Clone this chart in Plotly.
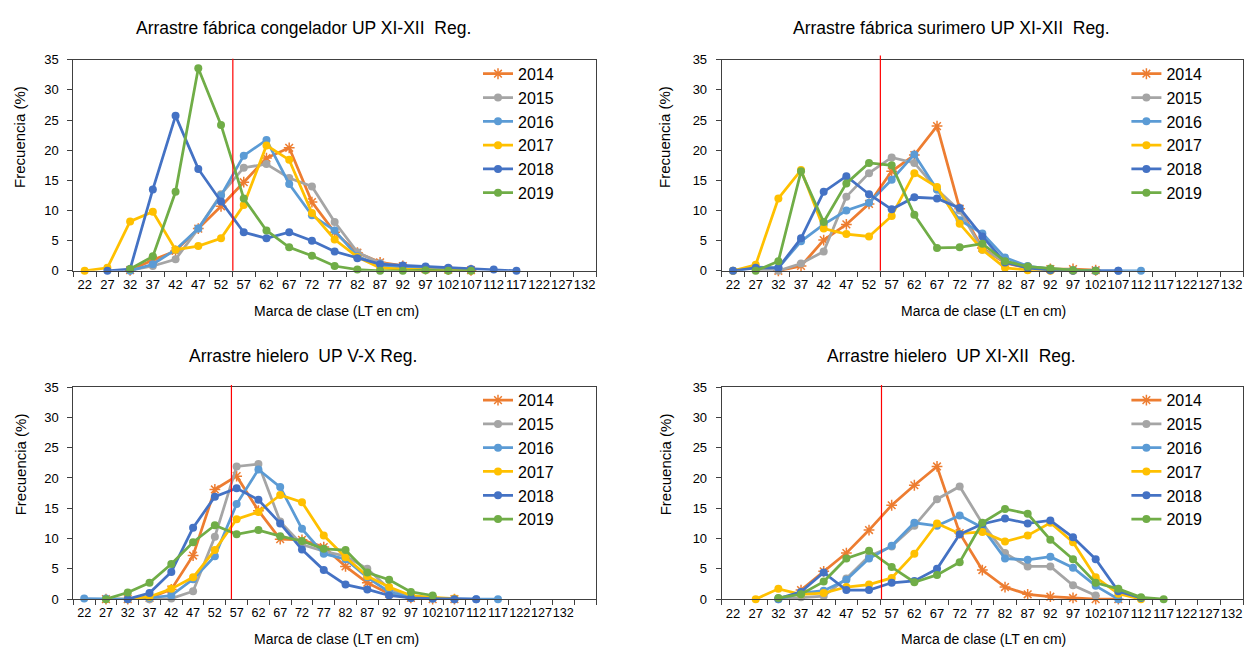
import plotly.graph_objects as go

# ---------------- data ----------------
clases = ["22", "27", "32", "37", "42", "47", "52", "57", "62", "67", "72", "77",
          "82", "87", "92", "97", "102", "107", "112", "117", "122", "127", "132"]
anios = ["2014", "2015", "2016", "2017", "2018", "2019"]
N = None

cong_2014 = [N, N, 0.1, 1.8, 3.3, 7.0, 10.7, 14.7, 18.7, 20.4, 11.4, 6.4, 3.0, 1.4, 0.8, 0.3, 0.2, 0.1, N, N, N, N, N]
cong_2015 = [N, N, 0.1, 0.8, 1.9, 7.0, 12.7, 17.1, 17.7, 15.4, 14.0, 8.1, 3.1, 1.3, 0.7, 0.4, 0.2, 0.1, N, N, N, N, N]
cong_2016 = [N, N, 0.0, 1.1, 3.5, 7.0, 12.5, 19.1, 21.7, 14.4, 9.2, 6.7, 2.4, 0.9, 0.6, 0.4, 0.3, 0.1, N, N, N, N, N]
cong_2017 = [0.0, 0.5, 8.2, 9.8, 3.5, 4.1, 5.4, 10.9, 20.8, 18.4, 9.6, 5.2, 2.3, 0.5, 0.3, 0.2, 0.1, 0.0, N, N, N, N, N]
cong_2018 = [N, 0.0, 0.3, 13.5, 25.7, 16.9, 11.5, 6.4, 5.4, 6.4, 5.0, 3.2, 2.1, 1.1, 0.9, 0.7, 0.5, 0.3, 0.2, 0.0, N, N, N]
cong_2019 = [N, N, 0.3, 2.4, 13.1, 33.6, 24.2, 12.0, 6.7, 3.9, 2.5, 0.8, 0.2, 0.0, 0.0, 0.1, 0.0, 0.0, N, N, N, N, N]

suri_2014 = [N, N, 0.0, 0.8, 5.1, 7.7, 11.1, 16.5, 19.2, 24.0, 10.3, 3.8, 1.3, 0.5, 0.3, 0.3, 0.1, N, N, N, N, N, N]
suri_2015 = [N, 0.2, 0.0, 1.2, 3.2, 12.3, 16.2, 18.8, 17.9, 13.5, 10.0, 3.5, 1.6, 0.6, 0.3, 0.1, 0.0, N, N, N, N, N, N]
suri_2016 = [0.0, 0.6, 0.5, 4.9, 7.7, 10.0, 11.3, 15.1, 19.3, 13.5, 8.4, 6.2, 2.2, 0.8, 0.3, 0.1, 0.0, 0.0, 0.0, N, N, N, N]
suri_2017 = [0.0, 1.0, 12.0, 16.7, 7.0, 6.1, 5.7, 9.1, 16.2, 13.9, 7.8, 3.5, 0.5, 0.1, 0.0, 0.0, N, N, N, N, N, N, N]
suri_2018 = [0.0, 0.5, 0.5, 5.4, 13.1, 15.7, 12.7, 10.2, 12.2, 12.0, 10.4, 5.7, 1.4, 0.5, 0.1, 0.0, 0.0, 0.0, N, N, N, N, N]
suri_2019 = [N, 0.0, 1.6, 16.5, 8.1, 14.5, 17.9, 17.5, 9.3, 3.8, 3.9, 4.5, 1.6, 0.7, 0.4, 0.1, 0.0, N, N, N, N, N, N]

hv_2014 = [N, 0.0, 0.0, 0.2, 1.6, 7.2, 18.1, 20.3, 14.6, 9.9, 9.8, 8.6, 5.4, 2.7, 0.9, 0.2, 0.0, 0.0, N, N, N, N, N]
hv_2015 = [N, N, N, 0.0, 0.1, 1.3, 10.3, 21.9, 22.3, 12.8, 9.0, 7.9, 7.1, 5.0, 1.7, 0.4, 0.1, N, N, N, N, N, N]
hv_2016 = [0.1, 0.1, 0.0, 0.2, 0.6, 3.3, 7.1, 15.7, 21.4, 18.5, 11.6, 7.5, 6.6, 3.6, 1.2, 0.2, 0.1, 0.0, 0.0, 0.0, N, N, N]
hv_2017 = [N, N, 0.0, 0.4, 1.7, 3.6, 8.1, 13.2, 14.4, 17.2, 16.0, 10.5, 6.9, 3.8, 2.0, 0.6, 0.3, 0.1, N, N, N, N, N]
hv_2018 = [N, N, 0.0, 1.0, 4.5, 11.8, 16.9, 18.3, 16.4, 12.5, 8.2, 4.8, 2.4, 1.6, 0.6, 0.2, 0.1, 0.0, 0.0, N, N, N, N]
hv_2019 = [N, 0.0, 1.1, 2.7, 5.8, 9.4, 12.2, 10.7, 11.4, 10.4, 9.6, 8.3, 8.1, 4.4, 3.2, 1.2, 0.6, N, N, N, N, N, N]

hx_2014 = [N, N, N, 1.5, 4.6, 7.6, 11.4, 15.5, 18.8, 21.9, 10.9, 4.8, 2.0, 0.8, 0.4, 0.2, 0.0, 0.0, N, N, N, N, N]
hx_2015 = [N, N, 0.0, 0.3, 0.5, 3.4, 7.1, 8.7, 12.1, 16.5, 18.6, 12.5, 7.6, 5.4, 5.4, 2.3, 0.6, N, N, N, N, N, N]
hx_2016 = [N, N, 0.0, 1.0, 1.4, 3.2, 6.7, 8.8, 12.6, 12.1, 13.8, 11.8, 6.7, 6.5, 7.0, 5.2, 2.2, 0.0, N, N, N, N, N]
hx_2017 = [N, 0.0, 1.7, 0.8, 1.0, 2.0, 2.4, 3.5, 7.5, 12.5, 10.8, 11.1, 9.5, 10.5, 12.6, 9.4, 3.6, 0.9, 0.0, N, N, N, N]
hx_2018 = [N, N, 0.1, 1.2, 4.4, 1.5, 1.5, 2.7, 3.0, 5.0, 10.7, 12.4, 13.3, 12.5, 13.0, 10.2, 6.6, 1.3, 0.2, N, N, N, N]
hx_2019 = [N, N, 0.2, 0.8, 2.9, 6.7, 8.0, 5.3, 2.8, 4.0, 6.1, 12.6, 14.9, 14.1, 9.8, 6.6, 2.7, 1.7, 0.3, 0.0, N, N, N]

titulos = ["Arrastre fábrica congelador UP XI-XII\u00a0 Reg.",
           "Arrastre fábrica surimero UP XI-XII\u00a0 Reg.",
           "Arrastre hielero\u00a0 UP V-X Reg.",
           "Arrastre hielero\u00a0 UP XI-XII\u00a0 Reg."]
x_titulo = "Marca de clase (LT en cm)"
y_titulo = "Frecuencia (%)"
y_ticks = [0, 5, 10, 15, 20, 25, 30, 35]
talla_ref = [6.52, 6.5, 6.76, 6.55]   # vertical red reference line (category position)

paneles = [
    [cong_2014, cong_2015, cong_2016, cong_2017, cong_2018, cong_2019],
    [suri_2014, suri_2015, suri_2016, suri_2017, suri_2018, suri_2019],
    [hv_2014, hv_2015, hv_2016, hv_2017, hv_2018, hv_2019],
    [hx_2014, hx_2015, hx_2016, hx_2017, hx_2018, hx_2019],
]

# ---------------- style ----------------
W, H = 1245, 656
colores = ["#ED7D31", "#A5A5A5", "#5B9BD5", "#FFC000", "#4472C4", "#70AD47"]
FONT = "Liberation Sans, Arial"
AX = "#404040"

def px(x):
    return x / W

def py(y):
    return 1 - y / H

xdom = [[px(73.3), px(596)], [px(721.7), px(1243)], [px(73.3), px(596)], [px(721.7), px(1243)]]
ydom = [[py(270), py(54)], [py(270), py(54)], [py(606), py(389)], [py(606), py(389)]]
ncat = [23, 23, 24, 23]
ref_top = [1.005, 1.02, 1.01, 1.01]

fig = go.Figure()
for p in range(4):
    cats = clases + ([" "] if ncat[p] == 24 else [])
    for k, anio in enumerate(anios):
        vals = paneles[p][k] + ([None] if ncat[p] == 24 else [])
        if k == 0:
            mk = dict(symbol="asterisk-open", size=9, color=colores[k],
                      line=dict(color=colores[k], width=1.5))
        else:
            mk = dict(symbol="circle", size=8, color=colores[k])
        fig.add_trace(go.Scatter(
            x=cats, y=vals, name=anio, mode="lines+markers",
            line=dict(color=colores[k], width=2.75), marker=mk,
            xaxis="x" if p == 0 else f"x{p+1}",
            yaxis="y" if p == 0 else f"y{p+1}",
            legend="legend" if p == 0 else f"legend{p+1}",
            cliponaxis=False, connectgaps=False,
        ))

layout = dict(width=W, height=H, margin=dict(l=0, r=0, t=0, b=0),
              paper_bgcolor="white", plot_bgcolor="white", showlegend=True)

for p in range(4):
    sfx = "" if p == 0 else str(p + 1)
    cats = clases + ([" "] if ncat[p] == 24 else [])
    layout["xaxis" + sfx] = dict(
        domain=xdom[p], anchor="y" + sfx, type="category",
        categoryorder="array", categoryarray=cats,
        range=[-0.5, ncat[p] - 0.5], tickangle=0,
        ticks="outside", tickson="boundaries", ticklen=5, tickcolor=AX,
        showline=True, linecolor=AX, linewidth=1, mirror=True,
        showgrid=False, zeroline=False, ticklabelstandoff=2,
        tickfont=dict(family=FONT, size=13 if ncat[p] == 23 else 12.6, color="#000000"))
    layout["yaxis" + sfx] = dict(
        domain=ydom[p], anchor="x" + sfx, range=[0, 35],
        tickvals=y_ticks, ticks="outside", ticklen=5, tickcolor=AX,
        showline=True, linecolor=AX, linewidth=1, mirror=True,
        showgrid=False, zeroline=False, ticklabelstandoff=6,
        tickfont=dict(family=FONT, size=13, color="#000000"))
    lx = [478, 1126.4, 478, 1126.4][p]
    ly = [51, 51, 385, 385][p]
    layout["legend" + sfx] = dict(
        x=px(lx), y=py(ly), xanchor="left", yanchor="top",
        bgcolor="rgba(0,0,0,0)", borderwidth=0, tracegroupgap=0,
        font=dict(family=FONT, size=16, color="#000000"))

fig.update_layout(**layout)

# titles and axis titles
tpos = [(303, 21), (951, 21), (303, 357), (951, 357)]
xtpos = [(336, 311), (983, 311), (336, 647), (983, 647)]
ytpos = [(20, 133), (665, 133), (20, 468), (665, 468)]
for p in range(4):
    fig.add_annotation(x=px(tpos[p][0]), y=py(tpos[p][1]), xref="paper", yref="paper",
                       text=titulos[p], showarrow=False, xanchor="center", yanchor="middle",
                       font=dict(family=FONT, size=17.5, color="#000000"))
    fig.add_annotation(x=px(xtpos[p][0]), y=py(xtpos[p][1]), xref="paper", yref="paper",
                       text=x_titulo, showarrow=False, xanchor="center", yanchor="middle",
                       font=dict(family=FONT, size=14, color="#000000"))
    fig.add_annotation(x=px(ytpos[p][0]), y=py(ytpos[p][1]), xref="paper", yref="paper",
                       text=y_titulo, showarrow=False, xanchor="center", yanchor="middle",
                       textangle=-90, font=dict(family=FONT, size=15, color="#000000"))
    sfx = "" if p == 0 else str(p + 1)
    fig.add_shape(type="line", xref="x" + sfx, yref=f"y{sfx} domain",
                  x0=talla_ref[p], x1=talla_ref[p], y0=0, y1=ref_top[p],
                  line=dict(color="#FF0000", width=1.2), layer="above")

fig.write_html("out.html", config={"displayModeBar": False},
               post_script="document.body.style.margin='0px';document.body.style.overflow='hidden';")
